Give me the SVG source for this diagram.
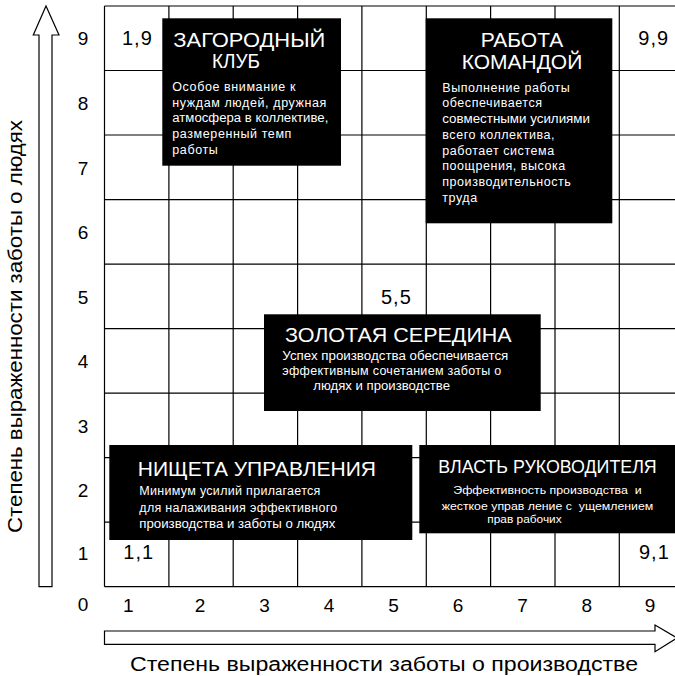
<svg xmlns="http://www.w3.org/2000/svg" width="675" height="676" viewBox="0 0 675 676">
<style>
text{font-family:"Liberation Sans",Arial,sans-serif;}
.grid{stroke:#000;stroke-width:1.2;fill:none;}
.arrow{fill:#fff;stroke:#000;stroke-width:1.2;}
.num{font-size:19px;fill:#000;}
.pt{font-size:20px;fill:#000;letter-spacing:1px;}
.cap{font-size:20px;fill:#000;}
.box{fill:#000;}
.title{font-size:21px;fill:#fff;}
.body{font-size:12.5px;fill:#fff;}
.small{font-size:11px;fill:#fff;}
</style>
<rect width="675" height="676" fill="#fff"/>
<g id="grid" class="grid">
<line x1="104.5" y1="6" x2="684" y2="6"/>
<line x1="104.5" y1="70.5" x2="684" y2="70.5"/>
<line x1="104.5" y1="135" x2="684" y2="135"/>
<line x1="104.5" y1="199.6" x2="684" y2="199.6"/>
<line x1="104.5" y1="264.1" x2="684" y2="264.1"/>
<line x1="104.5" y1="328.6" x2="684" y2="328.6"/>
<line x1="104.5" y1="393.1" x2="684" y2="393.1"/>
<line x1="104.5" y1="457.6" x2="684" y2="457.6"/>
<line x1="104.5" y1="522.2" x2="684" y2="522.2"/>
<line x1="104.5" y1="586.7" x2="684" y2="586.7"/>
<line x1="104.5" y1="6" x2="104.5" y2="586.7"/>
<line x1="168.9" y1="6" x2="168.9" y2="586.7"/>
<line x1="233.2" y1="6" x2="233.2" y2="586.7"/>
<line x1="297.6" y1="6" x2="297.6" y2="586.7"/>
<line x1="361.9" y1="6" x2="361.9" y2="586.7"/>
<line x1="426.3" y1="6" x2="426.3" y2="586.7"/>
<line x1="490.6" y1="6" x2="490.6" y2="586.7"/>
<line x1="555" y1="6" x2="555" y2="586.7"/>
<line x1="619.3" y1="6" x2="619.3" y2="586.7"/>
</g>
<g id="connectors">
<polygon class="arrow" points="39,586.7 39,35 33.3,35 46,6 59,35 52,35 52,586.7"/>
<polygon class="arrow" points="104.5,631 655,631 655,625 677,638 655,651.7 655,644.3 104.5,644.3"/>
</g>
<g id="y-labels">
<text class="num" x="83" y="44.5" text-anchor="middle">9</text>
<text class="num" x="83" y="110" text-anchor="middle">8</text>
<text class="num" x="83" y="174.5" text-anchor="middle">7</text>
<text class="num" x="83" y="239" text-anchor="middle">6</text>
<text class="num" x="83" y="303.5" text-anchor="middle">5</text>
<text class="num" x="83" y="368" text-anchor="middle">4</text>
<text class="num" x="83" y="432.5" text-anchor="middle">3</text>
<text class="num" x="83" y="497" text-anchor="middle">2</text>
<text class="num" x="83" y="560" text-anchor="middle">1</text>
<text class="num" x="83" y="611" text-anchor="middle">0</text>
</g>
<g id="x-labels">
<text class="num" x="128.3" y="612" text-anchor="middle">1</text>
<text class="num" x="200" y="612" text-anchor="middle">2</text>
<text class="num" x="264.5" y="612" text-anchor="middle">3</text>
<text class="num" x="329" y="612" text-anchor="middle">4</text>
<text class="num" x="393.5" y="612" text-anchor="middle">5</text>
<text class="num" x="458" y="612" text-anchor="middle">6</text>
<text class="num" x="522.5" y="612" text-anchor="middle">7</text>
<text class="num" x="586.7" y="612" text-anchor="middle">8</text>
<text class="num" x="650" y="612" text-anchor="middle">9</text>
</g>
<g id="captions">
<text class="cap" x="130" y="671" textLength="508" lengthAdjust="spacingAndGlyphs">Степень выраженности заботы о производстве</text>
<text class="cap" transform="translate(22,533) rotate(-90)" x="0" y="0" textLength="413" lengthAdjust="spacingAndGlyphs">Степень выраженности заботы о людях</text>
</g>
<g id="points">
<text class="pt" x="122" y="45">1,9</text>
<text class="pt" x="638.3" y="44.5">9,9</text>
<text class="pt" x="381" y="304">5,5</text>
<text class="pt" x="123.3" y="559.3">1,1</text>
<text class="pt" x="639" y="559.3">9,1</text>
</g>
<g id="country-club">
<rect class="box" x="162.3" y="18.3" width="178.7" height="147.4"/>
<text class="title" x="173.3" y="46.7" textLength="152" lengthAdjust="spacingAndGlyphs">ЗАГОРОДНЫЙ</text>
<text class="title" x="212" y="68.3" textLength="48" lengthAdjust="spacingAndGlyphs">КЛУБ</text>
<text class="body" x="172.3" y="90.7" letter-spacing="0.6">Особое внимание к</text>
<text class="body" x="172.3" y="106.5" letter-spacing="0.6">нуждам людей, дружная</text>
<text class="body" x="172.3" y="122.3" textLength="156" lengthAdjust="spacingAndGlyphs">атмосфера в коллективе,</text>
<text class="body" x="172.3" y="138.2" letter-spacing="0.6">размеренный темп</text>
<text class="body" x="172.3" y="154" letter-spacing="0.6">работы</text>
</g>
<g id="team">
<rect class="box" x="425.7" y="18.3" width="186.6" height="205"/>
<text class="title" x="522" y="46.7" text-anchor="middle">РАБОТА</text>
<text class="title" x="461.7" y="69.3" textLength="120.6" lengthAdjust="spacingAndGlyphs">КОМАНДОЙ</text>
<text class="body" x="442.3" y="91.7" letter-spacing="0.55">Выполнение работы</text>
<text class="body" x="442.3" y="107.4" letter-spacing="0.55">обеспечивается</text>
<text class="body" x="442.3" y="123.1" textLength="147.7" lengthAdjust="spacingAndGlyphs">совместными усилиями</text>
<text class="body" x="442.3" y="138.8" letter-spacing="0.55">всего коллектива,</text>
<text class="body" x="442.3" y="154.5" letter-spacing="0.55">работает система</text>
<text class="body" x="442.3" y="170.2" letter-spacing="0.55">поощрения, высока</text>
<text class="body" x="442.3" y="185.9" letter-spacing="0.55">производительность</text>
<text class="body" x="442.3" y="201.6" letter-spacing="0.55">труда</text>
</g>
<g id="middle">
<rect class="box" x="264" y="314.3" width="276.7" height="96.7"/>
<text class="title" x="285" y="341.7" textLength="226.7" lengthAdjust="spacingAndGlyphs">ЗОЛОТАЯ СЕРЕДИНА</text>
<text class="body" x="282.3" y="360" textLength="226" lengthAdjust="spacingAndGlyphs">Успех производства обеспечивается</text>
<text class="body" x="282.3" y="375" letter-spacing="0.3">эффективным сочетанием заботы о</text>
<text class="body" x="313.3" y="390" textLength="136.7" lengthAdjust="spacingAndGlyphs">людях и производстве</text>
</g>
<g id="impoverished">
<rect class="box" x="109.3" y="445" width="303" height="95"/>
<text class="title" x="137.7" y="476" textLength="238.3" lengthAdjust="spacingAndGlyphs">НИЩЕТА УПРАВЛЕНИЯ</text>
<text class="body" x="139.3" y="495" letter-spacing="0.3">Минимум усилий прилагается</text>
<text class="body" x="139.3" y="511.5" letter-spacing="0.3">для налаживания эффективного</text>
<text class="body" x="139.3" y="527.7" textLength="196" lengthAdjust="spacingAndGlyphs">производства и заботы о людях</text>
</g>
<g id="authority">
<rect class="box" x="419.3" y="445" width="260" height="88.3"/>
<text class="title" x="438.3" y="473.3" style="font-size:18px" textLength="218.4" lengthAdjust="spacingAndGlyphs">ВЛАСТЬ РУКОВОДИТЕЛЯ</text>
<text class="small" x="453.3" y="494.3" textLength="188.4" lengthAdjust="spacingAndGlyphs" xml:space="preserve">Эффективность производства  и</text>
<text class="small" x="441.7" y="510" textLength="211.6" lengthAdjust="spacingAndGlyphs" xml:space="preserve">жесткое управ ление с  ущемлением</text>
<text class="small" x="487.3" y="523.3" textLength="74.4" lengthAdjust="spacingAndGlyphs">прав рабочих</text>
</g>
</svg>
